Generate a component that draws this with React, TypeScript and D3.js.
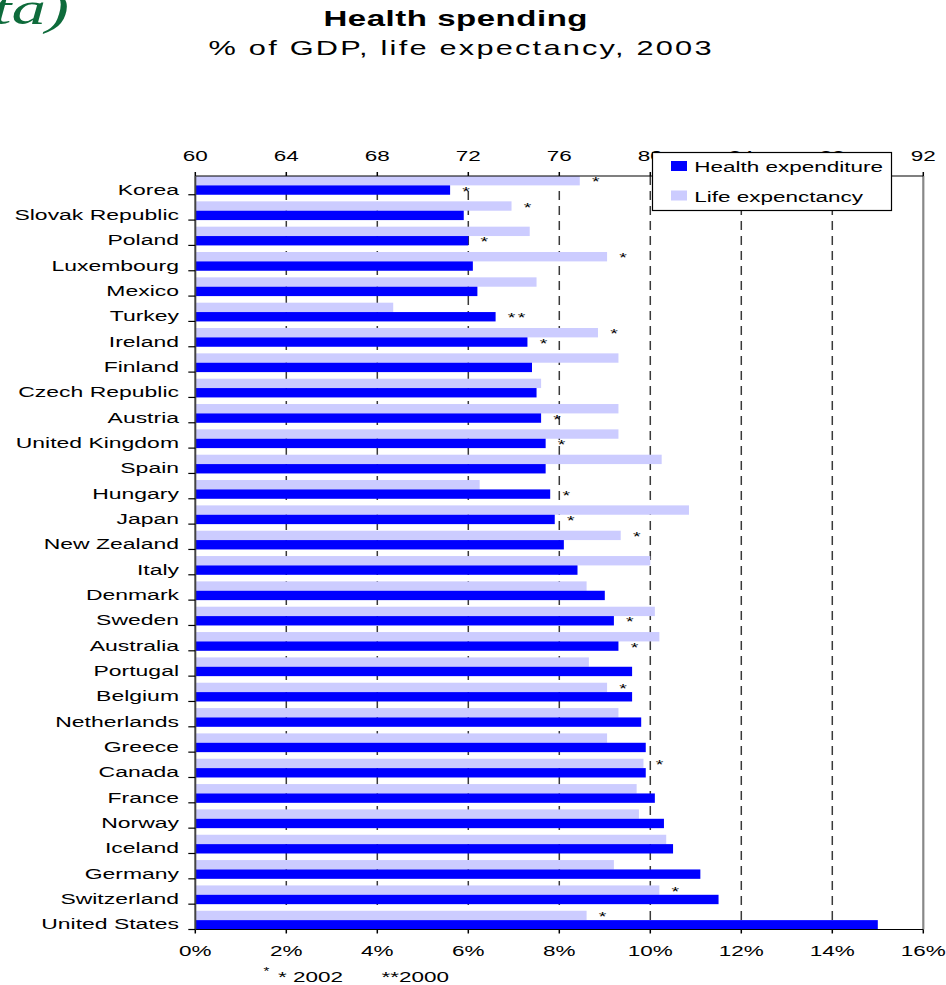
import React, { useEffect } from "react";
import * as d3 from "d3";

// Countries ordered by health spending, lowest first
const countries = [
  "Korea", "Slovak Republic", "Poland", "Luxembourg", "Mexico", "Turkey",
  "Ireland", "Finland", "Czech Republic", "Austria", "United Kingdom", "Spain",
  "Hungary", "Japan", "New Zealand", "Italy", "Denmark", "Sweden", "Australia",
  "Portugal", "Belgium", "Netherlands", "Greece", "Canada", "France", "Norway",
  "Iceland", "Germany", "Switzerland", "United States",
];

// Health expenditure, % of GDP
const healthExpenditure = [
  5.6, 5.9, 6.0, 6.1, 6.2, 6.6, 7.3, 7.4, 7.5, 7.6, 7.7, 7.7, 7.8, 7.9, 8.1,
  8.4, 9.0, 9.2, 9.3, 9.6, 9.6, 9.8, 9.9, 9.9, 10.1, 10.3, 10.5, 11.1, 11.5, 15.0,
];

// Life expectancy at birth, years
const lifeExpectancy = [
  76.9, 73.9, 74.7, 78.1, 75.0, 68.7, 77.7, 78.6, 75.2, 78.6, 78.6, 80.5, 72.5,
  81.7, 78.7, 80.0, 77.2, 80.2, 80.4, 77.3, 78.1, 78.6, 78.1, 79.7, 79.4, 79.5,
  80.7, 78.4, 80.4, 77.2,
];

// Footnote markers: "*" = 2002 data, "**" = 2000 data
const healthNotes = [
  "*", "", "*", "", "", "**", "*", "", "", "*", "*", "", "*", "*", "", "", "",
  "*", "*", "", "", "", "", "", "", "", "", "", "", "",
];
const lifeNotes = [
  "*", "*", "", "*", "", "", "*", "", "", "", "", "", "", "", "*", "", "", "",
  "", "", "*", "", "", "*", "", "", "", "", "*", "*",
];

const pctTicks = [0, 2, 4, 6, 8, 10, 12, 14, 16];
const yearTicks = [60, 64, 68, 72, 76, 80, 84, 88, 92];

const seriesNames = ["Health expenditure", "Life expenctancy"];
const seriesColors = ["#0000FF", "#CCCCFF"];

const WIDTH = 946;
const HEIGHT = 985;
const SX = 1.5; // horizontal stretch applied to all lettering
const FONT = "'Liberation Sans', Arial, sans-serif";

type TProps = {
  x: number;
  y: number;
  anchor?: "start" | "middle" | "end";
  size?: number;
  weight?: string;
  fill?: string;
  family?: string;
  italic?: boolean;
  length?: number;
  children: React.ReactNode;
};

function T({ x, y, anchor = "start", size = 15, weight = "normal", fill = "#000", family = FONT, italic, length, children }: TProps) {
  return (
    <text
      transform={`translate(${x},${y}) scale(${SX},1)`}
      textAnchor={anchor}
      fontSize={size}
      fontWeight={weight}
      fontFamily={family}
      fontStyle={italic ? "italic" : "normal"}
      fill={fill}
      textLength={length}
      lengthAdjust={length ? "spacing" : undefined}
    >
      {children}
    </text>
  );
}

function Stars({ x, y, note }: { x: number; y: number; note: string }) {
  if (!note) return null;
  return (
    <g>
      {note.split("").map((_, i) => (
        <T key={i} x={x + 16 + i * 10} y={y + 7.5} anchor="middle" size={13}>*</T>
      ))}
    </g>
  );
}

export default function App() {
  useEffect(() => {
    document.body.style.margin = "0";
  }, []);

  const plotLeft = 195.3;
  const plotRight = 923.3;
  const plotTop = 176;
  const plotBottom = 929.5;

  const x = d3.scaleLinear().domain([0, 16]).range([plotLeft, plotRight]);
  const xLife = d3.scaleLinear().domain([60, 92]).range([plotLeft, plotRight]);
  const y = d3
    .scaleBand<string>()
    .domain(countries)
    .range([plotTop, plotBottom])
    .paddingInner(0.26)
    .paddingOuter(0);
  const bw = y.bandwidth();
  const half = bw / 2;

  return (
    <svg width={WIDTH} height={HEIGHT} style={{ display: "block", background: "#fff" }}>
      {/* slide heading fragment */}
      <T x={69} y={24} anchor="end" size={46} italic family="'Liberation Serif', 'Times New Roman', serif" fill="#0e6b3b">
        (OECD data)
      </T>

      {/* titles */}
      <T x={455.5} y={25.7} anchor="middle" size={22} weight="bold" length={264 / SX}>
        Health spending
      </T>
      <T x={460} y={55} anchor="middle" size={20.5} length={503 / SX}>
        % of GDP,  life expectancy, 2003
      </T>

      {/* dashed gridlines */}
      {pctTicks
        .filter((v) => v > 0 && v < 16)
        .map((v) => (
          <line
            key={`g${v}`}
            x1={x(v)}
            x2={x(v)}
            y1={plotTop}
            y2={plotBottom}
            stroke="#3a3a3a"
            strokeWidth={1.5}
            strokeDasharray="9,6"
          />
        ))}

      {/* bars */}
      {countries.map((c, i) => {
        const y0 = y(c) as number;
        return (
          <g key={c}>
            <rect x={plotLeft} y={y0} width={xLife(lifeExpectancy[i]) - plotLeft} height={half} fill={seriesColors[1]} />
            <rect x={plotLeft} y={y0 + half} width={x(healthExpenditure[i]) - plotLeft} height={half} fill={seriesColors[0]} />
            <Stars x={xLife(lifeExpectancy[i])} y={y0 + half / 2 - 2} note={lifeNotes[i]} />
            <Stars x={x(healthExpenditure[i])} y={y0 + half + half / 2 - 2} note={healthNotes[i]} />
          </g>
        );
      })}

      {/* right frame */}
      <line x1={plotRight} x2={plotRight} y1={plotTop} y2={plotBottom} stroke="#888" strokeWidth={2.2} />

      {/* top axis: life expectancy */}
      <line x1={plotLeft} x2={plotRight} y1={plotTop} y2={plotTop} stroke="#000" strokeWidth={1.2} />
      {yearTicks.map((v) => (
        <g key={`t${v}`}>
          <line x1={xLife(v)} x2={xLife(v)} y1={plotTop - 4} y2={plotTop} stroke="#000" strokeWidth={1.5} />
          <T x={xLife(v)} y={160.7} anchor="middle" size={15}>{v}</T>
        </g>
      ))}

      {/* bottom axis: % of GDP */}
      <line x1={plotLeft} x2={plotRight} y1={plotBottom} y2={plotBottom} stroke="#000" strokeWidth={1.2} />
      {pctTicks.map((v) => (
        <g key={`b${v}`}>
          <line x1={x(v)} x2={x(v)} y1={plotBottom} y2={plotBottom + 4} stroke="#000" strokeWidth={1.5} />
          <T x={x(v)} y={956} anchor="middle" size={15}>{`${v}%`}</T>
        </g>
      ))}

      {/* category axis */}
      <line x1={plotLeft} x2={plotLeft} y1={plotTop} y2={plotBottom} stroke="#444" strokeWidth={2} />
      {countries.map((c) => {
        const y0 = y(c) as number;
        return (
          <g key={`l${c}`}>
            <line x1={plotLeft - 7} x2={plotLeft} y1={y0 + bw} y2={y0 + bw} stroke="#000" strokeWidth={1.2} />
            <T x={179} y={y0 + half + 9.3} anchor="end" size={15.3}>{c}</T>
          </g>
        );
      })}

      {/* legend */}
      <rect x={652.5} y={152.5} width={239} height={58} fill="#fff" stroke="#000" strokeWidth={1.2} />
      {seriesNames.map((name, i) => (
        <g key={name}>
          <rect x={671} y={161 + i * 29.5} width={16} height={10} fill={seriesColors[i]} />
          <T x={694.3} y={172 + i * 29.5} size={15}>{name}</T>
        </g>
      ))}

      {/* footnote */}
      <T x={266.5} y={975} anchor="middle" size={10}>*</T>
      <T x={278} y={982} size={15}>* 2002</T>
      <T x={381.5} y={982} size={15}>**2000</T>
    </svg>
  );
}
